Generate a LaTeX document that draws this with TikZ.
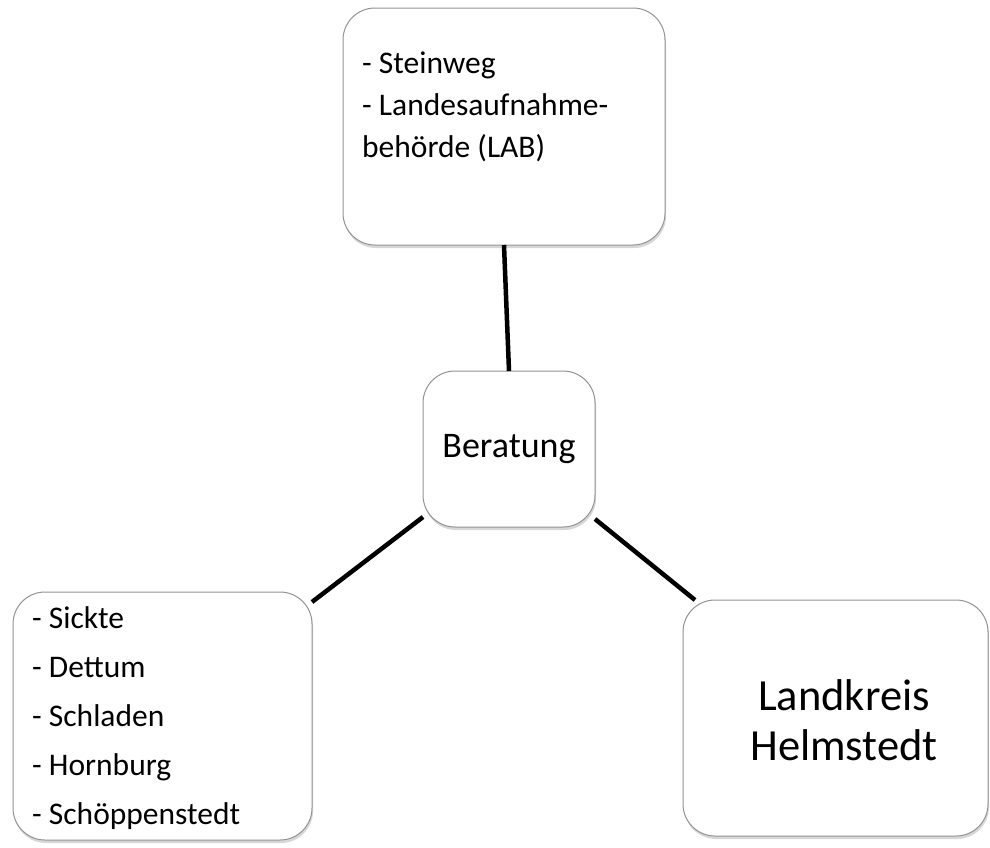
\documentclass[tikz,border=0pt]{standalone}
\usepackage{fontspec}
\setmainfont{Carlito}
\usetikzlibrary{shadows}
\begin{document}
\begin{tikzpicture}[x=1pt, y=-1pt,
    box/.style={draw=gray!85, line width=1pt, fill=white, rounded corners=32pt,
        inner sep=0pt, outer sep=0pt,
        drop shadow={shadow xshift=1pt, shadow yshift=-3pt, opacity=.45, fill=gray!70}},
    link/.style={line width=4.5pt, black},
    small/.style={font=\fontsize{31.5}{42}\selectfont, inner sep=0pt, anchor=base west}]
    \useasboundingbox (0,0) rectangle (990,847);
    % boxes
    \node[box, minimum width=322pt, minimum height=237pt] (lab) at (504,126.5) {};
    \node[box, minimum width=172pt, minimum height=156pt] (beratung) at (509,449)
        {\fontsize{36}{42}\selectfont Beratung};
    \node[box, minimum width=299pt, minimum height=248pt] (orte) at (162.5,716) {};
    \node[box, minimum width=305pt, minimum height=236pt] (landkreis) at (835.5,718) {};
    % texts
    \node[small] (steinweg) at (362,73) {- Steinweg};
    \node[small] (labname) at (362,115) {- Landesaufnahme-};
    \node[small] (labkurz) at (362,157) {behörde (LAB)};
    \foreach \ort [count=\i] in {Sickte, Dettum, Schladen, Hornburg, Schöppenstedt}
        \node[small] (ort\i) at (32,579+49*\i) {- \ort};
    \node[align=center, font=\fontsize{44.5}{50}\selectfont] (lktext) at (844,720)
        {Landkreis\\Helmstedt};
    % connectors
    \draw[link] (lab.south) -- (beratung.north);
    \draw[link] ([yshift=-10pt]orte.north east) -- ([yshift=10pt]beratung.south west);
    \draw[link] ([yshift=8pt]beratung.south east) -- ([xshift=12pt]landkreis.north west);
\end{tikzpicture}
\end{document}
